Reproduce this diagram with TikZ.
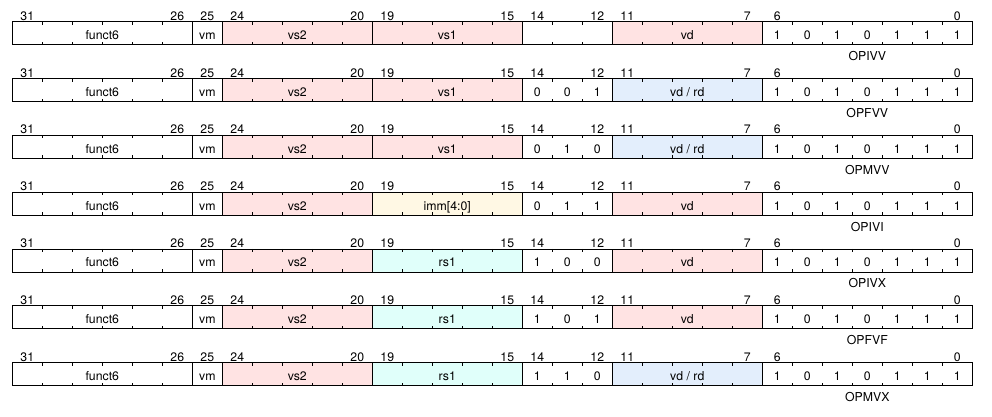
\documentclass[tikz,border=0pt]{standalone}
\usepackage{fontspec}
\setmainfont{TeX Gyre Heros}
\usetikzlibrary{positioning, calc}
\definecolor{vregpink}{HTML}{FFE3E3}
\definecolor{vrdblue}{HTML}{E3EEFC}
\definecolor{immyellow}{HTML}{FFF8E4}
\definecolor{xregcyan}{HTML}{E0FFFA}
\tikzset{
    field/.style={draw, line width=0.8pt, minimum height=23pt, inner sep=0pt, outer sep=0pt,
        text height=13pt, text depth=0pt, font=\fontsize{12.3}{14}\selectfont},
    bitval/.style={inner sep=0pt, text height=13pt, text depth=0pt, font=\fontsize{12.3}{14}\selectfont},
    bitnum/.style={anchor=base, inner sep=0pt, font=\fontsize{12.3}{14}\selectfont},
    opname/.style={anchor=base, inner sep=0pt, font=\fontsize{12.3}{14}\selectfont},
    tick/.style={line width=0.6pt}
}
\begin{document}
\begin{tikzpicture}[x=1pt, y=-1pt]
    \useasboundingbox[fill=white] (0,0) rectangle (992,416);
    \foreach \r/\fa/\fb/\fc/\src/\srccol/\dst/\dstcol/\nm in {
        1/ / / /vs1/vregpink/vd/vregpink/OPIVV,
        2/0/0/1/vs1/vregpink/{vd / rd}/vrdblue/OPFVV,
        3/0/1/0/vs1/vregpink/{vd / rd}/vrdblue/OPMVV,
        4/0/1/1/{imm[4:0]}/immyellow/vd/vregpink/OPIVI,
        5/1/0/0/rs1/xregcyan/vd/vregpink/OPIVX,
        6/1/0/1/rs1/xregcyan/vd/vregpink/OPFVF,
        7/1/1/0/rs1/xregcyan/{vd / rd}/vrdblue/OPMVX}
    {
        % Fields of the row
        \coordinate (row\r) at (12.3, {21.7+56.8*(\r-1)});
        \node[field, anchor=north west, minimum width=180pt] (funct\r) at (row\r) {funct6};
        \node[field, minimum width=30pt, right=0pt of funct\r] (vm\r) {vm};
        \node[field, minimum width=150pt, fill=vregpink, right=0pt of vm\r] (vstwo\r) {vs2};
        \node[field, minimum width=150pt, fill=\srccol, right=0pt of vstwo\r] (vsone\r) {\src};
        \node[field, minimum width=90pt, right=0pt of vsone\r] (fthree\r) {};
        \node[field, minimum width=150pt, fill=\dstcol, right=0pt of fthree\r] (vd\r) {\dst};
        \node[field, minimum width=210pt, right=0pt of vd\r] (op\r) {};
        % Tick marks between bits
        \foreach \k in {1,...,5,8,9,10,11,13,14,15,16,18,19,21,22,23,24,26,27,28,29,30,31}
        {
            \draw[tick] ($(funct\r.north west)+(30*\k,0)$) -- ++(0,3);
            \draw[tick] ($(funct\r.south west)+(30*\k,0)$) -- ++(0,-3);
        }
        % Bit numbers
        \foreach \b in {31,26,25,24,20,19,15,14,12,11,7,6,0}
            \node[bitnum] (bit\r-\b) at ($(funct\r.north west)+({30*(31-\b)+15},-1.5)$) {\b};
        % funct3 and opcode bits
        \node[bitval] (fa\r) at ($(fthree\r.west)+(15,0)$) {\fa};
        \node[bitval] (fb\r) at (fthree\r.center) {\fb};
        \node[bitval] (fc\r) at ($(fthree\r.east)+(-15,0)$) {\fc};
        \foreach \v [count=\j] in {1,0,1,0,1,1,1}
            \node[bitval] (opbit\r-\j) at ($(op\r.west)+(30*\j-15,0)$) {\v};
        % Name of the category
        \node[opname] (name\r) at ($(op\r.south)+(0,16)$) {\nm};
    }
\end{tikzpicture}
\end{document}
